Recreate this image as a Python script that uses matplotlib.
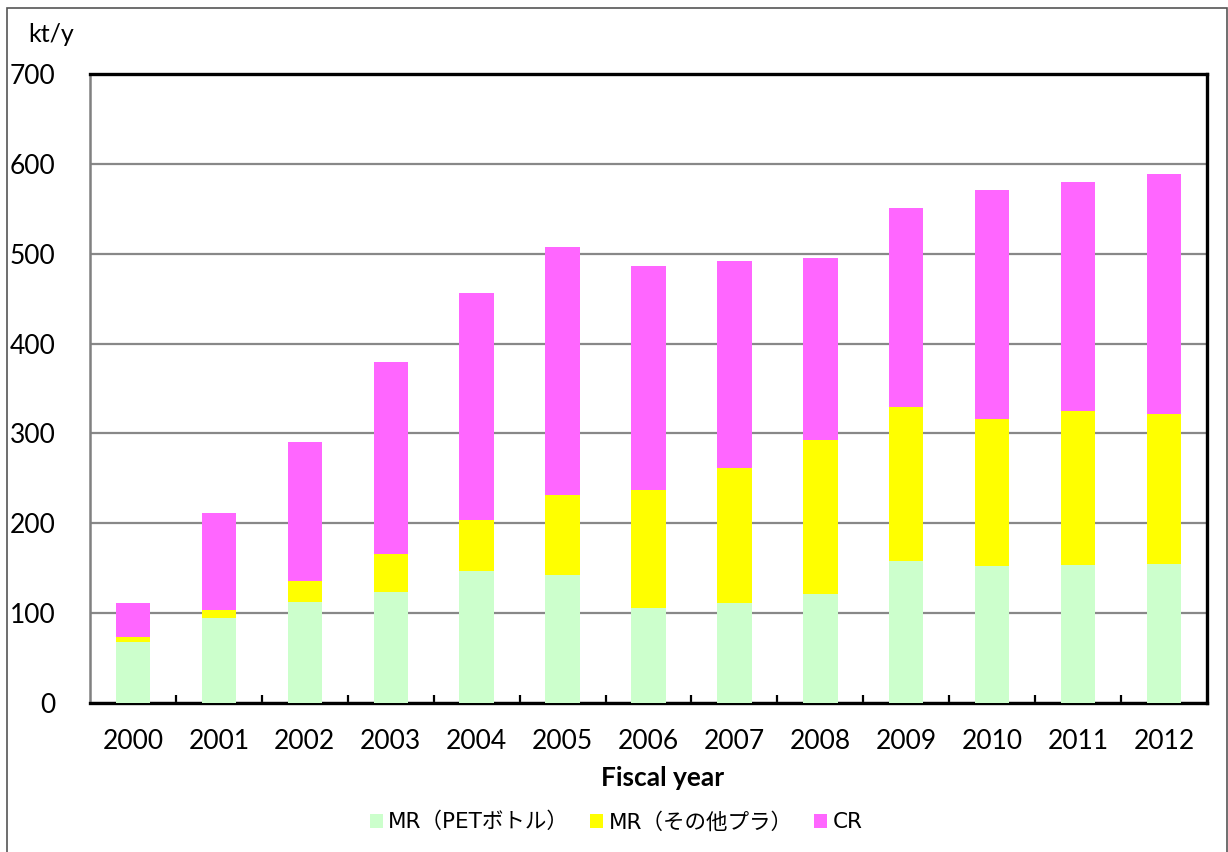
import numpy as np
import matplotlib
matplotlib.use("Agg")
from matplotlib import pyplot as plt
from matplotlib.patches import Rectangle

plt.rcParams['font.family'] = ['Lato', 'Noto Sans CJK JP', 'DejaVu Sans']

# data (kt/y)
years = ['2000', '2001', '2002', '2003', '2004', '2005', '2006',
         '2007', '2008', '2009', '2010', '2011', '2012']
mr_pet = [68, 95, 112, 124, 147, 143, 106, 111, 121, 158, 153, 154, 155]
mr_other = [5, 9, 24, 42, 57, 88, 131, 150, 172, 171, 163, 171, 167]
cr = [38, 107, 155, 213, 252, 277, 249, 231, 202, 222, 255, 255, 267]
labels = ['MR（PETボトル）', 'MR（その他プラ）', 'CR']
colors = ['#CCFFCC', '#FFFF00', '#FF66FF']

fig = plt.figure(figsize=(12.28, 8.52), dpi=100)
ax = fig.add_axes([90/1228, 1-703/852, (1207-90)/1228, (703-74)/852])

x = np.arange(len(years))
bottom = np.zeros(len(years))
for vals, lab, col in zip([mr_pet, mr_other, cr], labels, colors):
    ax.bar(x, vals, 0.4, bottom=bottom, color=col, label=lab, zorder=3)
    bottom += np.array(vals)

ax.set_xlim(-0.5, len(years) - 0.5)
ax.set_ylim(0, 700)
ax.set_yticks(np.arange(0, 701, 100))
ax.yaxis.grid(True, color='#888888', linewidth=1.6, zorder=0)

ax.set_xticks(x)
ax.set_xticklabels(years, fontsize=19)
ax.set_xticks(x[:-1] + 0.5, minor=True)
ax.tick_params(axis='x', which='major', length=0, pad=19)
ax.tick_params(axis='x', which='minor', direction='in', length=6, width=1.6, color='black')
ax.tick_params(axis='y', length=0, pad=25, labelsize=19)

for s in ['top', 'right', 'bottom']:
    ax.spines[s].set_linewidth(2.4)
    ax.spines[s].set_color('black')
ax.spines['left'].set_color('#808080')
ax.spines['left'].set_linewidth(1.8)

ax.set_xlabel('Fiscal year', fontsize=19, fontweight='bold')
ax.xaxis.set_label_coords((663-90)/1117, -0.1)
fig.text(28/1228, 1-34/852, 'kt/y', fontsize=18, va='center', ha='left')

leg = ax.legend(loc='upper center', bbox_to_anchor=(0.471, -0.142), ncol=3,
                frameon=False, handlelength=0.6, handleheight=0.6,
                handletextpad=0.25, columnspacing=1.0,
                prop={'family': ['DejaVu Sans', 'Noto Sans CJK JP'], 'size': 15.5})

# outer frame of the chart area
fig.patches.append(Rectangle((7/1228, -0.02), (1227-7)/1228, 1.02 - 8/852,
                             transform=fig.transFigure, fill=False,
                             edgecolor='#555555', linewidth=1.2))

fig.savefig('out.png', dpi=100)
